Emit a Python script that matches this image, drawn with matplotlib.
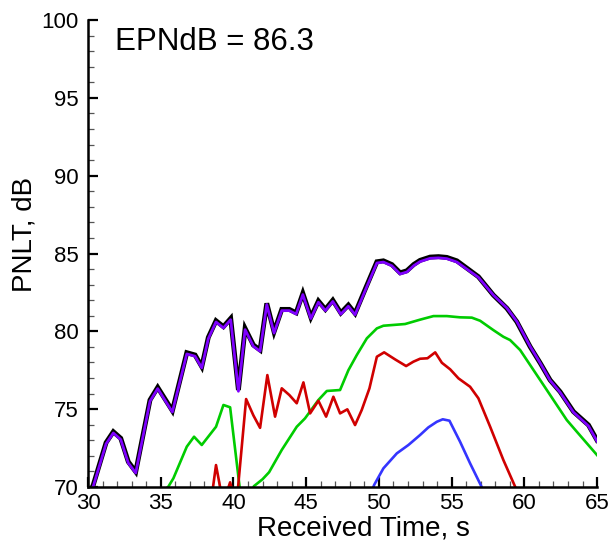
import matplotlib.pyplot as plt
from matplotlib.ticker import MultipleLocator

plt.rcParams['font.family'] = ['Liberation Sans', 'DejaVu Sans']

# total PNLT (black) and its companion (purple)
total_t = [30.00, 30.36, 31.24, 31.74, 32.25, 32.77, 33.28, 34.26, 34.79, 35.80,
           36.79, 37.36, 37.82, 38.27, 38.80, 39.31, 39.81, 40.34, 40.80, 41.37,
           41.83, 42.29, 42.79, 43.32, 43.84, 44.31, 44.77, 45.32, 45.84, 46.32,
           46.83, 47.38, 47.90, 48.36, 49.10, 49.86, 50.31, 50.89, 51.46, 51.92,
           52.40, 52.83, 53.52, 54.10, 54.67, 55.36, 56.16, 56.84, 57.87, 58.80,
           59.48, 60.40, 61.10, 61.77, 62.46, 63.38, 64.41, 65.00]
total_pnlt = [69.40, 70.13, 72.85, 73.55, 73.13, 71.62, 70.98, 75.59, 76.40, 74.90,
              78.63, 78.48, 77.73, 79.61, 80.68, 80.30, 80.83, 76.23, 80.19, 79.12,
              78.80, 81.80, 79.97, 81.41, 81.41, 81.19, 82.44, 80.90, 81.95, 81.41,
              82.00, 81.18, 81.69, 81.15, 82.80, 84.47, 84.53, 84.29, 83.76, 83.89,
              84.30, 84.56, 84.77, 84.80, 84.75, 84.53, 83.98, 83.51, 82.33, 81.48,
              80.62, 79.01, 77.95, 76.87, 76.12, 74.84, 73.98, 73.00]
purple_pnlt = [69.32, 70.05, 72.77, 73.47, 73.05, 71.54, 70.90, 75.51, 76.32, 74.82,
               78.55, 78.40, 77.65, 79.53, 80.60, 80.22, 80.75, 76.15, 80.11, 79.04,
               78.72, 81.72, 79.89, 81.33, 81.33, 81.11, 82.36, 80.82, 81.87, 81.33,
               81.92, 81.10, 81.61, 81.07, 82.72, 84.39, 84.45, 84.21, 83.68, 83.81,
               84.22, 84.48, 84.69, 84.72, 84.67, 84.45, 83.92, 83.47, 82.33, 81.50,
               80.64, 79.03, 77.95, 76.85, 76.08, 74.80, 73.92, 72.94]

green_t = [34.90, 35.52, 35.87, 36.79, 37.29, 37.82, 38.80, 39.31, 39.77, 40.50,
           41.00, 41.40, 42.00, 42.45, 43.32, 44.35, 44.92, 45.84, 46.42, 47.33,
           47.90, 48.48, 49.17, 49.86, 50.31, 51.80, 52.83, 53.75, 54.67, 55.58,
           56.39, 56.96, 57.87, 58.56, 59.02, 59.71, 61.09, 62.92, 63.61, 65.00]
green_pnlt = [69.50, 70.02, 70.56, 72.59, 73.23, 72.70, 73.87, 75.27, 75.12, 69.40,
              68.50, 70.05, 70.50, 70.95, 72.38, 73.87, 74.41, 75.59, 76.17, 76.23,
              77.50, 78.48, 79.55, 80.19, 80.36, 80.47, 80.75, 80.98, 80.98, 80.90,
              80.88, 80.68, 80.08, 79.65, 79.44, 78.80, 76.87, 74.30, 73.55, 72.05]

red_t = [38.45, 38.80, 39.15, 39.45, 39.77, 40.20, 40.87, 41.37, 41.83, 42.33,
         42.86, 43.32, 43.84, 44.35, 44.81, 45.27, 45.84, 46.37, 46.87, 47.33,
         47.83, 48.36, 48.82, 49.35, 49.86, 50.36, 51.11, 51.87, 52.37, 52.83,
         53.34, 53.87, 54.33, 54.90, 55.47, 56.27, 56.84, 57.65, 58.56, 59.40, 59.80]
red_pnlt = [69.00, 71.41, 69.65, 69.40, 70.30, 68.80, 75.65, 74.60, 73.80, 77.19,
            74.52, 76.34, 75.91, 75.38, 76.72, 74.73, 75.54, 74.52, 75.80, 74.73,
            74.99, 73.98, 74.95, 76.34, 78.37, 78.65, 78.20, 77.77, 78.05, 78.24,
            78.27, 78.65, 77.98, 77.56, 76.98, 76.44, 75.70, 73.87, 71.73, 69.95, 69.00]

blue_t = [49.50, 49.67, 50.31, 51.23, 52.03, 52.83, 53.40, 53.98, 54.39, 54.85,
          55.58, 56.27, 57.00, 57.20]
blue_pnlt = [69.70, 70.13, 71.20, 72.16, 72.70, 73.34, 73.83, 74.19, 74.35, 74.26,
             72.91, 71.52, 70.13, 69.70]

fig = plt.figure(figsize=(6.13, 5.45), dpi=100)
ax = fig.add_axes([0.1436, 0.1064, 0.8304, 0.8569])

ax.plot(total_t, total_pnlt, color='black', lw=3.5, solid_joinstyle='miter')
ax.plot(total_t, purple_pnlt, color='#7f00ff', lw=2.0)
ax.plot(green_t, green_pnlt, color='#00cc00', lw=1.9)
ax.plot(red_t, red_pnlt, color='#d00000', lw=1.9)
ax.plot(blue_t, blue_pnlt, color='#3535ff', lw=1.9)

ax.set_xlim(30, 65)
ax.set_ylim(70, 100)
ax.xaxis.set_major_locator(MultipleLocator(5))
ax.xaxis.set_minor_locator(MultipleLocator(1))
ax.yaxis.set_major_locator(MultipleLocator(5))
ax.yaxis.set_minor_locator(MultipleLocator(1))

for side in ['top', 'right']:
    ax.spines[side].set_visible(False)
for side in ['left', 'bottom']:
    ax.spines[side].set_linewidth(1.8)

ax.tick_params(which='major', direction='in', length=7, width=1.6,
               labelsize=16)
ax.tick_params(which='minor', direction='in', length=4.5, width=0.9,
               color='#555555')
ax.tick_params(axis='y', which='major', pad=7)
ax.tick_params(axis='x', which='major', pad=4)

ax.set_xlabel('Received Time, s', fontsize=20)
ax.xaxis.set_label_coords(0.542, -0.062)
ax.set_ylabel('PNLT, dB', fontsize=20)
ax.yaxis.set_label_coords(-0.10, 0.54)

ax.text(0.053, 0.953, 'EPNdB = 86.3', transform=ax.transAxes,
        fontsize=22.5, va='center', ha='left')

fig.savefig('out.png', dpi=100)
